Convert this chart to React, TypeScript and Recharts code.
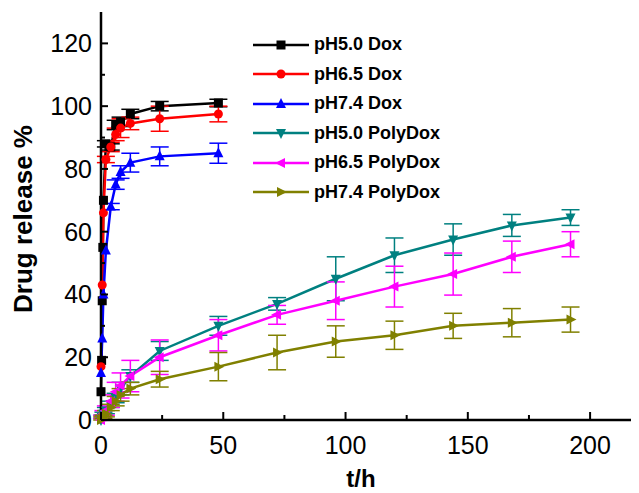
import { LineChart, Line, XAxis, YAxis, ErrorBar, Legend } from "recharts";

// sampling times (h)
const blackTimes = [0, 0.25, 0.5, 0.75, 1, 2, 4, 6, 8, 12, 24, 48];
const doxTimes = [0, 0.5, 1, 2, 4, 6, 8, 12, 24, 48];
const polyTimes = [0, 0.5, 1, 2, 4, 6, 8, 12, 24, 48, 72, 96, 120, 144, 168, 192];

// release %
const ph50Dox = [9, 19, 38, 55, 70, 88, 87, 94, 95, 97.5, 100, 101];
const ph50DoxErr = [0, 0, 0, 0, 0, 1, 1, 1.5, 1.5, 1.5, 1.5, 1.2];
const ph65Dox = [17, 43, 66, 83, 87, 91, 93, 94.5, 96, 97.5];
const ph65DoxErr = [0, 0, 0, 1, 1.5, 2, 3, 2, 4, 2.5];
const ph74Dox = [15, 26, 40, 54, 68, 75, 79, 82, 84, 85];
const ph74DoxErr = [0, 0, 0, 0, 1, 1.5, 2, 3, 3, 3.2];

const ph50Poly = [0, 1, 2, 3, 5, 7, 10, 14, 22, 30, 37, 45, 52.5, 57.5, 62, 64.5];
const ph50PolyErr = [0, 0.5, 0.5, 1, 1, 1.5, 2, 2, 3, 3, 2, 7, 5.5, 5, 3.5, 2.5];
const ph65Poly = [0, 1, 2, 3, 6, 9, 11, 14, 20, 27, 33.5, 38, 42.5, 46.5, 52, 56];
const ph65PolyErr = [0, 0.5, 1, 1.5, 2, 3, 4, 5, 5.5, 5, 3, 6, 6.5, 6.7, 5, 4];
const ph74Poly = [0, 0.5, 1, 2, 4, 6, 8, 10, 13, 17, 21.5, 25, 27, 30, 31, 32];
const ph74PolyErr = [0, 0.5, 0.5, 1, 1, 1.5, 2, 2, 2.5, 4.5, 5.5, 5, 4.5, 4, 4.5, 4];

const xTicks = [0, 25, 50, 75, 100, 125, 150, 175, 200];
const yTicks = [0, 10, 20, 30, 40, 50, 60, 70, 80, 90, 100, 110, 120];

const rows = (times: number[], vals: number[], errs: number[]) =>
  times.map((t, i) => ({ t, y: vals[i], err: errs[i] }));

type Shape = "square" | "circle" | "up" | "down" | "left" | "right";

const series: { name: string; color: string; shape: Shape; data: any[] }[] = [
  { name: "pH5.0 Dox", color: "#000000", shape: "square", data: rows(blackTimes, ph50Dox, ph50DoxErr) },
  { name: "pH6.5 Dox", color: "#FF0000", shape: "circle", data: rows(doxTimes, ph65Dox, ph65DoxErr) },
  { name: "pH7.4 Dox", color: "#0000FF", shape: "up", data: rows(doxTimes, ph74Dox, ph74DoxErr) },
  { name: "pH5.0 PolyDox", color: "#008080", shape: "down", data: rows(polyTimes, ph50Poly, ph50PolyErr) },
  { name: "pH6.5 PolyDox", color: "#FF00FF", shape: "left", data: rows(polyTimes, ph65Poly, ph65PolyErr) },
  { name: "pH7.4 PolyDox", color: "#808000", shape: "right", data: rows(polyTimes, ph74Poly, ph74PolyErr) },
];

const FONT = "'Liberation Sans', Arial, sans-serif";

function Marker({ shape, cx, cy, color }: { shape: Shape; cx: number; cy: number; color: string }) {
  if (cx == null || cy == null) return null;
  const s = 5;
  switch (shape) {
    case "square":
      return <rect x={cx - 4.5} y={cy - 4.5} width={9} height={9} fill={color} />;
    case "circle":
      return <circle cx={cx} cy={cy} r={4.5} fill={color} />;
    case "up":
      return <polygon points={`${cx},${cy - s * 1.2} ${cx - s},${cy + s * 0.8} ${cx + s},${cy + s * 0.8}`} fill={color} />;
    case "down":
      return <polygon points={`${cx},${cy + s * 1.2} ${cx - s},${cy - s * 0.8} ${cx + s},${cy - s * 0.8}`} fill={color} />;
    case "left":
      return <polygon points={`${cx - s * 1.2},${cy} ${cx + s * 0.8},${cy - s} ${cx + s * 0.8},${cy + s}`} fill={color} />;
    default:
      return <polygon points={`${cx + s * 1.2},${cy} ${cx - s * 0.8},${cy - s} ${cx - s * 0.8},${cy + s}`} fill={color} />;
  }
}

function YTick({ x, y, payload }: any) {
  const major = payload.value % 20 === 0;
  return (
    <g>
      <line x1={x} x2={x + (major ? 7 : 4)} y1={y} y2={y} stroke="#000" strokeWidth={2} />
      {major && (
        <text x={x - 9} y={y} dy="0.36em" textAnchor="end" fontSize={25} fontFamily={FONT} fill="#000">
          {payload.value}
        </text>
      )}
    </g>
  );
}

function XTick({ x, y, payload }: any) {
  const major = payload.value % 50 === 0;
  return (
    <g>
      <line x1={x} x2={x} y1={y} y2={y - (major ? 8 : 5)} stroke="#000" strokeWidth={2} />
      {major && (
        <text x={x} y={y + 34} textAnchor="middle" fontSize={25} fontFamily={FONT} fill="#000">
          {payload.value}
        </text>
      )}
    </g>
  );
}

function LegendBox() {
  return (
    <div style={{ fontFamily: FONT }}>
      {series.map((s) => (
        <div key={s.name} style={{ display: "flex", alignItems: "center", height: 29.5 }}>
          <svg width={57} height={20}>
            <line x1={0} x2={56} y1={10} y2={10} stroke={s.color} strokeWidth={2.5} />
            <Marker shape={s.shape} cx={28} cy={10} color={s.color} />
          </svg>
          <span style={{ marginLeft: 4, fontSize: 18, fontWeight: "bold", color: "#000" }}>{s.name}</span>
        </div>
      ))}
    </div>
  );
}

export default function App() {
  return (
    <LineChart width={631} height={485} margin={{ top: 4, right: 0, bottom: 0, left: 0 }}>
      <XAxis
        dataKey="t"
        type="number"
        domain={[0, 220]}
        ticks={xTicks}
        allowDuplicatedCategory={false}
        height={73}
        tickSize={0}
        tickMargin={0}
        tickLine={false}
        tick={<XTick />}
        axisLine={{ stroke: "#000", strokeWidth: 2.5 }}
        label={({ viewBox }: any) => (
          <text
            x={viewBox.x + viewBox.width / 2 - 9}
            y={viewBox.y + 67}
            textAnchor="middle"
            fontSize={24}
            fontWeight="bold"
            fontFamily={FONT}
            fill="#000"
          >
            t/h
          </text>
        )}
      />
      <XAxis
        xAxisId="top"
        orientation="top"
        type="number"
        domain={[0, 220]}
        height={0}
        tick={false}
        tickLine={false}
        axisLine={{ stroke: "#000", strokeWidth: 2.5 }}
      />
      <YAxis
        type="number"
        domain={[0, 130]}
        ticks={yTicks}
        width={93}
        tickSize={0}
        tickMargin={0}
        tickLine={false}
        tick={<YTick />}
        axisLine={{ stroke: "#000", strokeWidth: 2.5 }}
        label={({ viewBox }: any) => {
          const cx = viewBox.x + 15;
          const cy = viewBox.y + viewBox.height / 2 + 3;
          return (
            <text
              x={cx}
              y={cy}
              transform={`rotate(-90 ${cx} ${cy})`}
              textAnchor="middle"
              dominantBaseline="central"
              fontSize={26}
              fontWeight="bold"
              fontFamily={FONT}
              fill="#000"
            >
              Drug release %
            </text>
          );
        }}
      />
      <Legend
        layout="vertical"
        align="center"
        verticalAlign="middle"
        content={() => <LegendBox />}
        wrapperStyle={{ left: 245, top: 22, width: 200 }}
      />
      {series.map((s) => (
        <Line
          key={s.name}
          data={s.data}
          dataKey="y"
          name={s.name}
          type="linear"
          stroke={s.color}
          strokeWidth={2.5}
          isAnimationActive={false}
          dot={(p: any) => <Marker key={p.index} shape={s.shape} cx={p.cx} cy={p.cy} color={s.color} />}
          activeDot={false}
        >
          <ErrorBar dataKey="err" direction="y" width={9} strokeWidth={1.5} stroke={s.color} />
        </Line>
      ))}
    </LineChart>
  );
}
